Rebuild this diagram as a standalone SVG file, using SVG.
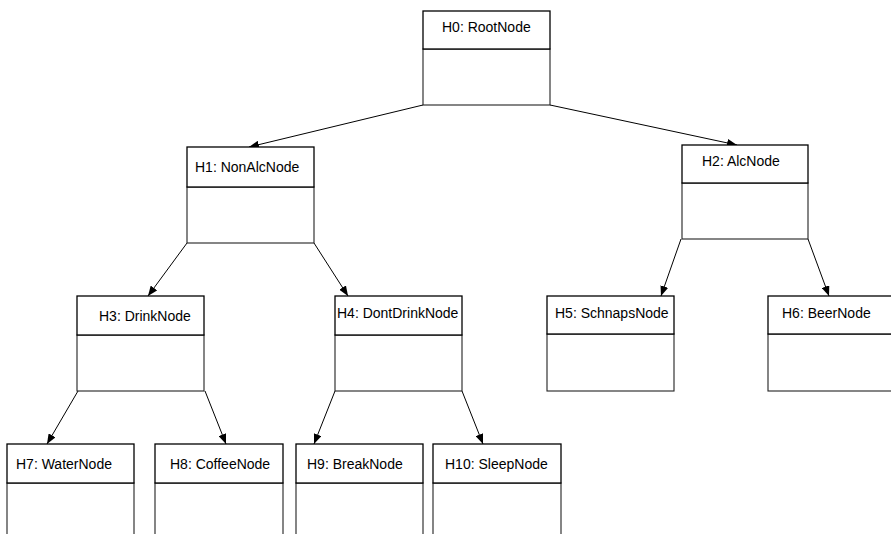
<svg xmlns="http://www.w3.org/2000/svg" width="891" height="534" viewBox="0 0 891 534">
<style>
.hd{fill:#fff;stroke:#000;stroke-width:1.3}
.bd{fill:#fff;stroke:#222;stroke-width:1.1}
.t{font-family:"Liberation Sans",Arial,sans-serif;font-size:14px;fill:#000}
.e{stroke:#000;stroke-width:1;fill:none;marker-end:url(#ah)}
</style>
<defs>
<marker id="ah" markerWidth="11" markerHeight="8" refX="10" refY="4" orient="auto" markerUnits="userSpaceOnUse">
<path d="M0,0 L10,4 L0,8 Z" fill="#000"/>
</marker>
</defs>
<rect width="891" height="534" fill="#fff"/>
<g id="edges">
<line class="e" x1="423" y1="105" x2="249" y2="147"/>
<line class="e" x1="550" y1="105" x2="737" y2="145"/>
<line class="e" x1="187" y1="243" x2="148" y2="296"/>
<line class="e" x1="314" y1="243" x2="348" y2="296"/>
<line class="e" x1="681" y1="239" x2="661" y2="296"/>
<line class="e" x1="808" y1="239" x2="829" y2="296"/>
<line class="e" x1="78" y1="391" x2="47" y2="444"/>
<line class="e" x1="205" y1="391" x2="226" y2="444"/>
<line class="e" x1="335" y1="391" x2="314" y2="444"/>
<line class="e" x1="462" y1="391" x2="483" y2="444"/>
</g>
<g id="H0"><rect class="bd" x="423" y="49" width="127" height="56"/><rect class="hd" x="423" y="11" width="127" height="38"/><text class="t" x="442" y="32">H0: RootNode</text></g>
<g id="H1"><rect class="bd" x="187" y="187" width="127" height="56"/><rect class="hd" x="187" y="147" width="127" height="40"/><text class="t" x="195" y="172">H1: NonAlcNode</text></g>
<g id="H2"><rect class="bd" x="682" y="183" width="126" height="56"/><rect class="hd" x="682" y="145" width="126" height="38"/><text class="t" x="702" y="166">H2: AlcNode</text></g>
<g id="H3"><rect class="bd" x="77" y="335" width="127" height="56"/><rect class="hd" x="77" y="296" width="127" height="39"/><text class="t" x="99" y="321">H3: DrinkNode</text></g>
<g id="H4"><rect class="bd" x="335" y="335" width="127" height="56"/><rect class="hd" x="335" y="296" width="127" height="39"/><text class="t" x="337" y="318">H4: DontDrinkNode</text></g>
<g id="H5"><rect class="bd" x="547" y="334" width="127" height="57"/><rect class="hd" x="547" y="296" width="127" height="38"/><text class="t" x="555" y="318">H5: SchnapsNode</text></g>
<g id="H6"><rect class="bd" x="768" y="334" width="127" height="57"/><rect class="hd" x="768" y="296" width="127" height="38"/><text class="t" x="782" y="318">H6: BeerNode</text></g>
<g id="H7"><rect class="bd" x="7" y="483" width="127" height="60"/><rect class="hd" x="7" y="444" width="127" height="39"/><text class="t" x="16" y="469">H7: WaterNode</text></g>
<g id="H8"><rect class="bd" x="155" y="483" width="128" height="60"/><rect class="hd" x="155" y="444" width="128" height="39"/><text class="t" x="170" y="469">H8: CoffeeNode</text></g>
<g id="H9"><rect class="bd" x="296" y="483" width="127" height="60"/><rect class="hd" x="296" y="444" width="127" height="39"/><text class="t" x="307" y="469">H9: BreakNode</text></g>
<g id="H10"><rect class="bd" x="433" y="483" width="128" height="60"/><rect class="hd" x="433" y="444" width="128" height="39"/><text class="t" x="445" y="469">H10: SleepNode</text></g>
</svg>
